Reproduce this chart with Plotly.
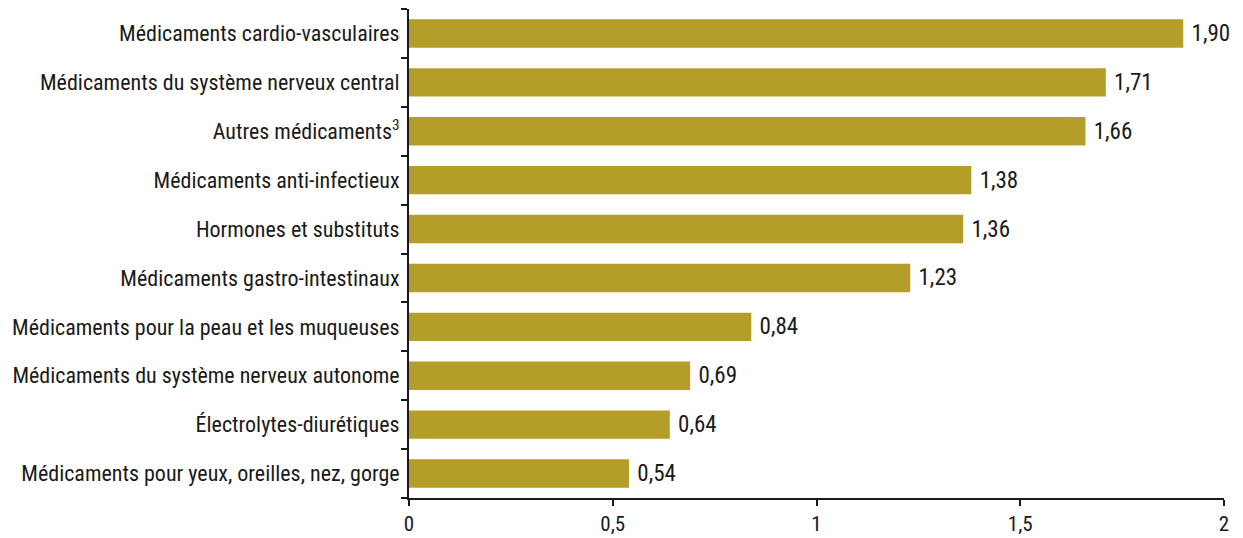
import plotly.graph_objects as go

categories = [
    "Médicaments cardio-vasculaires",
    "Médicaments du système nerveux central",
    "Autres médicaments<sup>3</sup>",
    "Médicaments anti-infectieux",
    "Hormones et substituts",
    "Médicaments gastro-intestinaux",
    "Médicaments pour la peau et les muqueuses",
    "Médicaments du système nerveux autonome",
    "Électrolytes-diurétiques",
    "Médicaments pour yeux, oreilles, nez, gorge",
]
values = [1.90, 1.71, 1.66, 1.38, 1.36, 1.23, 0.84, 0.69, 0.64, 0.54]
x_ticks = [0, 0.5, 1, 1.5, 2]

FONT = "Liberation Sans Narrow, Roboto Condensed, Arial Narrow, Liberation Sans, sans-serif"

fig = go.Figure(go.Bar(
    x=values[::-1],
    y=categories[::-1],
    orientation="h",
    marker=dict(color="#B59D2A", line=dict(width=0)),
    texttemplate="\u00a0%{x:.2f}",
    textposition="outside",
    textfont=dict(family=FONT, size=23, color="#1a1a1a"),
    cliponaxis=False,
))

fig.update_layout(
    width=1243, height=538,
    margin=dict(l=409, r=19, t=9, b=40),
    paper_bgcolor="white", plot_bgcolor="white",
    separators=", ",
    bargap=0.42,
    showlegend=False,
    font=dict(family=FONT, size=22, color="#1a1a1a"),
)
fig.update_xaxes(
    range=[0, 2], tickvals=x_ticks, automargin=False,
    showgrid=False, zeroline=False,
    showline=True, linecolor="#1a1a1a", linewidth=2,
    ticks="outside", ticklen=6, tickwidth=2, tickcolor="#1a1a1a",
    ticklabelstandoff=0,
    tickfont=dict(family=FONT, size=21, color="#1a1a1a"),
)
fig.update_yaxes(
    showgrid=False, zeroline=False, automargin=False,
    showline=True, linecolor="#1a1a1a", linewidth=2,
    ticks="outside", ticklen=6, tickwidth=2, tickcolor="#1a1a1a",
    tickson="boundaries", ticklabelstandoff=3,
    tickfont=dict(family=FONT, size=22, color="#1a1a1a"),
)

fig.write_html("out.html")
